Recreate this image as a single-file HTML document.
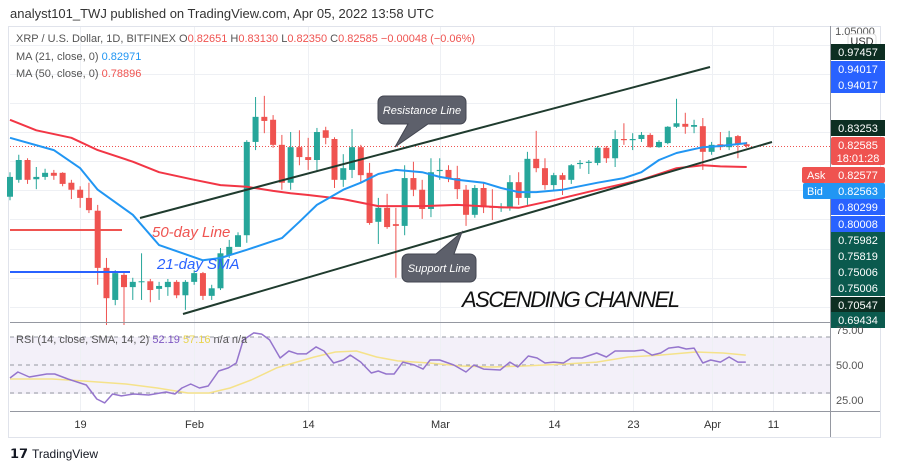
<!DOCTYPE html>
<html><head><meta charset="utf-8"><style>
body{margin:0;background:#fff;width:900px;height:471px;overflow:hidden;font-family:"Liberation Sans",sans-serif}
svg{display:block}
</style></head><body>
<svg id="c" width="900" height="471" xmlns="http://www.w3.org/2000/svg" font-family="Liberation Sans, sans-serif">
<text x="10" y="18" font-size="13" fill="#333">analyst101_TWJ published on TradingView.com, Apr 05, 2022 13:58 UTC</text>
<rect x="8.5" y="26.5" width="872" height="411" fill="none" stroke="#e0e3eb"/>
<rect x="10" y="337" width="820" height="57" fill="#7e57c2" fill-opacity="0.09"/>
<g id="grid"></g>
<g id="marks"></g>
<g>
<line x1="10" y1="230" x2="122" y2="230" stroke="#ef5350" stroke-width="2"/>
<line x1="10" y1="272" x2="130" y2="272" stroke="#2962ff" stroke-width="2"/>
<text x="152" y="237" font-size="15" font-style="italic" fill="#ef5350">50-day Line</text>
<text x="157" y="269" font-size="15" font-style="italic" fill="#2962ff">21-day SMA</text>
<line x1="140" y1="218" x2="710" y2="67" stroke="#1f3b2e" stroke-width="2"/>
<line x1="183" y1="314" x2="772" y2="142" stroke="#1f3b2e" stroke-width="2"/>
<path d="M384 96 h76 a6 6 0 0 1 6 6 v16 a6 6 0 0 1 -6 6 h-32 l-33 23 l13 -23 h-24 a6 6 0 0 1 -6 -6 v-16 a6 6 0 0 1 6 -6z" fill="#5d606b" stroke="#434651"/>
<text x="422" y="114" font-size="11" font-style="italic" fill="#fff" text-anchor="middle">Resistance Line</text>
<path d="M408 254 h28 l26 -22 l-8 22 h16 a6 6 0 0 1 6 6 v16 a6 6 0 0 1 -6 6 h-62 a6 6 0 0 1 -6 -6 v-16 a6 6 0 0 1 6 -6z" fill="#5d606b" stroke="#434651"/>
<text x="439" y="272" font-size="11" font-style="italic" fill="#fff" text-anchor="middle">Support Line</text>
<text x="462" y="307" font-size="22" font-style="italic" fill="#111" textLength="218">ASCENDING CHANNEL</text>
</g>
<g font-size="11">
<text x="16" y="42" fill="#555">XRP / U.S. Dollar, 1D, BITFINEX <tspan fill="#555">O</tspan><tspan fill="#ef5350">0.82651</tspan> <tspan fill="#555">H</tspan><tspan fill="#ef5350">0.83130</tspan> <tspan fill="#555">L</tspan><tspan fill="#ef5350">0.82350</tspan> <tspan fill="#555">C</tspan><tspan fill="#ef5350">0.82585 −0.00048 (−0.06%)</tspan></text>
<text x="16" y="60" fill="#555">MA (21, close, 0) <tspan fill="#2196f3">0.82971</tspan></text>
<text x="16" y="77" fill="#555">MA (50, close, 0) <tspan fill="#ef5350">0.78896</tspan></text>
<text x="16" y="343" fill="#555">RSI (14, close, SMA, 14, 2) <tspan fill="#7e57c2">52.19</tspan> <tspan fill="#e8d44d">57.16</tspan> n/a n/a</text>
</g>
<line x1="830.5" y1="26" x2="830.5" y2="437" stroke="#9598a1"/>
<line x1="10" y1="322.5" x2="880" y2="322.5" stroke="#9598a1"/>
<line x1="10" y1="411.5" x2="880" y2="411.5" stroke="#9598a1"/>
<g id="axis" font-size="11"></g>
<g>
<text x="10" y="458" font-size="13" font-weight="bold" fill="#131722">𝟭𝟳</text>
<text x="32" y="458" font-size="12" fill="#131722">TradingView</text>
</g>
</svg>
<script>
const opens=[0.739,0.768,0.802,0.769,0.773,0.780,0.780,0.763,0.751,0.737,0.715,0.617,0.562,0.605,0.584,0.593,0.594,0.581,0.584,0.593,0.570,0.593,0.608,0.569,0.582,0.639,0.653,0.673,0.833,0.876,0.871,0.828,0.763,0.824,0.807,0.802,0.853,0.838,0.768,0.785,0.824,0.780,0.696,0.720,0.692,0.689,0.771,0.751,0.718,0.783,0.785,0.771,0.751,0.708,0.754,0.723,0.720,0.720,0.764,0.737,0.804,0.788,0.759,0.776,0.768,0.795,0.797,0.797,0.823,0.805,0.838,0.836,0.838,0.845,0.824,0.831,0.859,0.864,0.859,0.860,0.816,0.829,0.824,0.843,0.829];
const closes=[0.773,0.802,0.768,0.773,0.780,0.775,0.761,0.751,0.737,0.716,0.617,0.565,0.608,0.584,0.593,0.594,0.579,0.586,0.593,0.570,0.593,0.608,0.569,0.582,0.642,0.653,0.673,0.833,0.876,0.869,0.828,0.763,0.824,0.807,0.802,0.850,0.840,0.768,0.788,0.824,0.776,0.694,0.720,0.687,0.689,0.771,0.751,0.718,0.781,0.785,0.771,0.752,0.708,0.754,0.721,0.720,0.721,0.764,0.737,0.804,0.788,0.759,0.776,0.768,0.793,0.797,0.799,0.823,0.805,0.838,0.836,0.838,0.845,0.824,0.833,0.859,0.865,0.859,0.862,0.816,0.828,0.824,0.841,0.829,0.826];
const highs=[0.781,0.811,0.805,0.790,0.787,0.785,0.781,0.768,0.757,0.763,0.725,0.634,0.613,0.610,0.600,0.642,0.598,0.593,0.598,0.596,0.596,0.613,0.610,0.588,0.651,0.665,0.678,0.836,0.910,0.912,0.879,0.845,0.850,0.853,0.840,0.857,0.859,0.841,0.812,0.855,0.828,0.797,0.737,0.744,0.720,0.793,0.799,0.768,0.805,0.805,0.793,0.792,0.759,0.759,0.763,0.752,0.728,0.776,0.781,0.816,0.852,0.805,0.780,0.780,0.795,0.802,0.802,0.826,0.826,0.853,0.865,0.848,0.850,0.848,0.836,0.860,0.907,0.883,0.871,0.874,0.833,0.850,0.852,0.845,0.833];
const lows=[0.733,0.763,0.761,0.752,0.768,0.768,0.757,0.735,0.720,0.711,0.588,0.519,0.553,0.519,0.562,0.562,0.558,0.562,0.569,0.565,0.545,0.588,0.562,0.562,0.579,0.634,0.661,0.660,0.819,0.848,0.823,0.751,0.751,0.793,0.785,0.783,0.829,0.754,0.756,0.771,0.764,0.691,0.658,0.684,0.600,0.673,0.740,0.701,0.704,0.768,0.764,0.735,0.689,0.703,0.711,0.699,0.713,0.715,0.725,0.725,0.781,0.751,0.749,0.742,0.761,0.787,0.778,0.793,0.797,0.790,0.828,0.819,0.833,0.823,0.823,0.829,0.857,0.847,0.848,0.785,0.811,0.819,0.819,0.805,0.823];
const ma21Days=[0,5,8,10,14,17,22,24,27,31,33,35,38,40,42,44,47,49,51,54,56,58,60,63,65,67,70,72,74,76,79,81,84];
const ma21Vals=[0.840,0.819,0.788,0.751,0.708,0.656,0.630,0.634,0.648,0.668,0.696,0.725,0.751,0.763,0.778,0.785,0.781,0.773,0.768,0.763,0.754,0.747,0.747,0.751,0.757,0.763,0.771,0.781,0.802,0.814,0.824,0.826,0.831];
const ma50Days=[0,3,7,10,14,17,21,24,27,30,32,34,38,42,47,51,56,58,62,67,72,76,79,81,84];
const ma50Vals=[0.871,0.853,0.840,0.819,0.799,0.781,0.768,0.759,0.756,0.749,0.745,0.742,0.735,0.723,0.723,0.725,0.721,0.720,0.733,0.751,0.768,0.788,0.793,0.791,0.790];
const rsiDays=[0,0.9,2.2,4.2,5.1,6.6,8.7,9.9,10.8,11.7,12.7,14.1,15.8,17.8,18.8,19.6,20.6,21.6,22.6,23.8,24.9,25.8,26.6,27.8,28.7,29.6,30.8,31.8,32.8,33.8,34.9,35.8,36.9,38,38.8,40,41.2,42,42.9,43.8,44.8,46.1,47.1,47.9,49,50.6,52,52.9,54,55.9,57,57.9,59.1,60.1,61,62,63.1,64,65.2,66.9,68,69,71.2,72.2,73.2,74.2,75.1,76.2,77.1,78,79,79.9,81,82,83,83.9];
const rsiVals=[40.7,45,41.4,43.6,43.6,40,35.7,25.7,22.9,29.3,27.9,29.3,28.6,30.7,29.3,33.6,36.4,33.6,35,45.7,47.9,51.4,67.9,72.9,72.1,67.9,55,60,57.9,57.9,62.9,60,51.4,53.6,57.1,52.1,44.3,45.7,43.6,43.6,52.1,50,47.1,53.6,53.6,50,45,50,47.1,46.4,52.1,48.6,56.4,55,51.4,52.1,51.4,55,55,58.6,55.7,60,60,60.7,57.1,58.6,62.1,62.9,61.4,62.1,51.4,53.6,52.1,55.7,52.1,52.1];
const rsiSmaDays=[0,4.8,8.4,13.2,16.8,20.3,22.7,25.1,27.5,30.4,34.7,37.1,39.5,41.8,44.2,47.8,51.4,55,58.6,63.3,66.9,70.5,74.1,78.2,81.3,83.9];
const rsiSmaVals=[40,40,38.6,36.4,33.6,30,30,33.6,39.3,47.9,55.7,59.3,60,55.7,52.9,51.4,49.3,48.6,49.3,50.7,52.1,55.7,57.1,59.3,58.6,57.1];
const timeLabels=['19','Feb','14','Mar','14','23','Apr','11'];
const timeDays=[8,21,34,49,62,71,80,87];
const rsiTicks=[75,50,25];

const NS='http://www.w3.org/2000/svg';
const xS=d=>10+d*8.77;
const yP=p=>(1.0764-p)/0.001715;
const yR=v=>365-(v-50)*1.4;
function mk(tag,attrs,parent){const e=document.createElementNS(NS,tag);for(const k in attrs)e.setAttribute(k,attrs[k]);parent.appendChild(e);return e;}
const grid=document.getElementById('grid'),marks=document.getElementById('marks'),axis=document.getElementById('axis');
// grid
for(let p=0.55;p<=1.001;p+=0.05){const y=Math.round(yP(p))+0.5;const l=mk('line',{x1:10,x2:830,y1:y,y2:y,stroke:'#eef0f4'},grid);

}
timeDays.forEach((d,i)=>{const x=Math.round(xS(d))+0.5;const l=mk('line',{x1:x,x2:x,y1:27,y2:411,stroke:'#eef0f4'},grid);


const t=mk('text',{x:x,y:428,'text-anchor':'middle',fill:'#333','font-size':11},axis);t.textContent=timeLabels[i];

});
[70,50,30].forEach(v=>{const l=mk('line',{x1:10,x2:830,y1:yR(v),y2:yR(v),stroke:'#9598a1','stroke-dasharray':'4 4'},grid);

});
mk('line',{x1:10,x2:830,y1:146.5,y2:146.5,stroke:'#ef5350','stroke-dasharray':'1 2','stroke-width':1},grid);
// candles
opens.forEach((o,i)=>{const c=closes[i],x=xS(i),up=c>=o,col=up?'#26a69a':'#ef5350';
const g=mk('g',{},marks);


mk('line',{x1:x,x2:x,y1:yP(highs[i]),y2:yP(lows[i]),stroke:col,'stroke-width':1},g);
const top=yP(Math.max(o,c)),h=Math.max(1,yP(Math.min(o,c))-top);
mk('rect',{x:x-3,y:top,width:6,height:h,fill:col},g);});
function line(days,vals,yf,col,w,name){const d=days.map((k,i)=>(i?'L':'M')+xS(k).toFixed(1)+' '+yf(vals[i]).toFixed(1)).join(' ');
const p=mk('path',{d:d,fill:'none',stroke:col,'stroke-width':w,'stroke-linejoin':'round'},marks);

}
line(ma50Days,ma50Vals,yP,'#f23645',2,'ma50-line');
line(ma21Days,ma21Vals,yP,'#2196f3',2,'ma21-line');
line(rsiSmaDays,rsiSmaVals,yR,'#f5e28a',1.5,'rsi-sma-line');
line(rsiDays,rsiVals,yR,'#9575cd',1.5,'rsi-line');
// price axis labels
const labels=[['0.97457',52,'#0d2e22'],['0.94017',69,'#2962ff'],['0.94017',85,'#2962ff'],['0.83253',128,'#0d2e22'],['0.80299',207,'#2962ff'],['0.80008',224,'#2962ff'],['0.75982',240,'#0b5a4e'],['0.75819',256,'#0b5a4e'],['0.75006',272,'#0b5a4e'],['0.75006',288,'#0b5a4e'],['0.70547',305,'#0d2e22'],['0.69434',320,'#0b5a4e']];
const t0=mk('text',{x:855,y:35,'text-anchor':'middle',fill:'#555'},axis);t0.textContent='1.05000';
const ub=mk('rect',{x:848,y:34,width:28,height:14,rx:3,fill:'#fff',stroke:'#ddd'},axis);
const ut=mk('text',{x:862,y:45,'text-anchor':'middle',fill:'#333'},axis);ut.textContent='USD';
labels.forEach(l=>{const r=mk('rect',{x:831,y:l[1]-8,width:54,height:16,fill:l[2]},axis);


const t=mk('text',{x:858,y:l[1]+4,'text-anchor':'middle',fill:'#fff'},axis);t.textContent=l[0];});
mk('rect',{x:831,y:137,width:54,height:28,rx:2,fill:'#ef5350'},axis);
let t=mk('text',{x:858,y:149,'text-anchor':'middle',fill:'#fff'},axis);t.textContent='0.82585';
t=mk('text',{x:858,y:162,'text-anchor':'middle',fill:'#fff'},axis);t.textContent='18:01:28';
mk('rect',{x:802,y:167,width:83,height:16,rx:2,fill:'#ef5350'},axis);
t=mk('text',{x:807,y:179,fill:'#fff'},axis);t.textContent='Ask';
t=mk('text',{x:858,y:179,'text-anchor':'middle',fill:'#fff'},axis);t.textContent='0.82577';
mk('rect',{x:803,y:183,width:82,height:16,rx:2,fill:'#2196f3'},axis);
t=mk('text',{x:807,y:195,fill:'#fff'},axis);t.textContent='Bid';
t=mk('text',{x:858,y:195,'text-anchor':'middle',fill:'#fff'},axis);t.textContent='0.82563';
rsiTicks.forEach(v=>{const tt=mk('text',{x:836,y:yR(v)+4,fill:'#555'},axis);tt.textContent=v.toFixed(2);

});
</script>
</body></html>
